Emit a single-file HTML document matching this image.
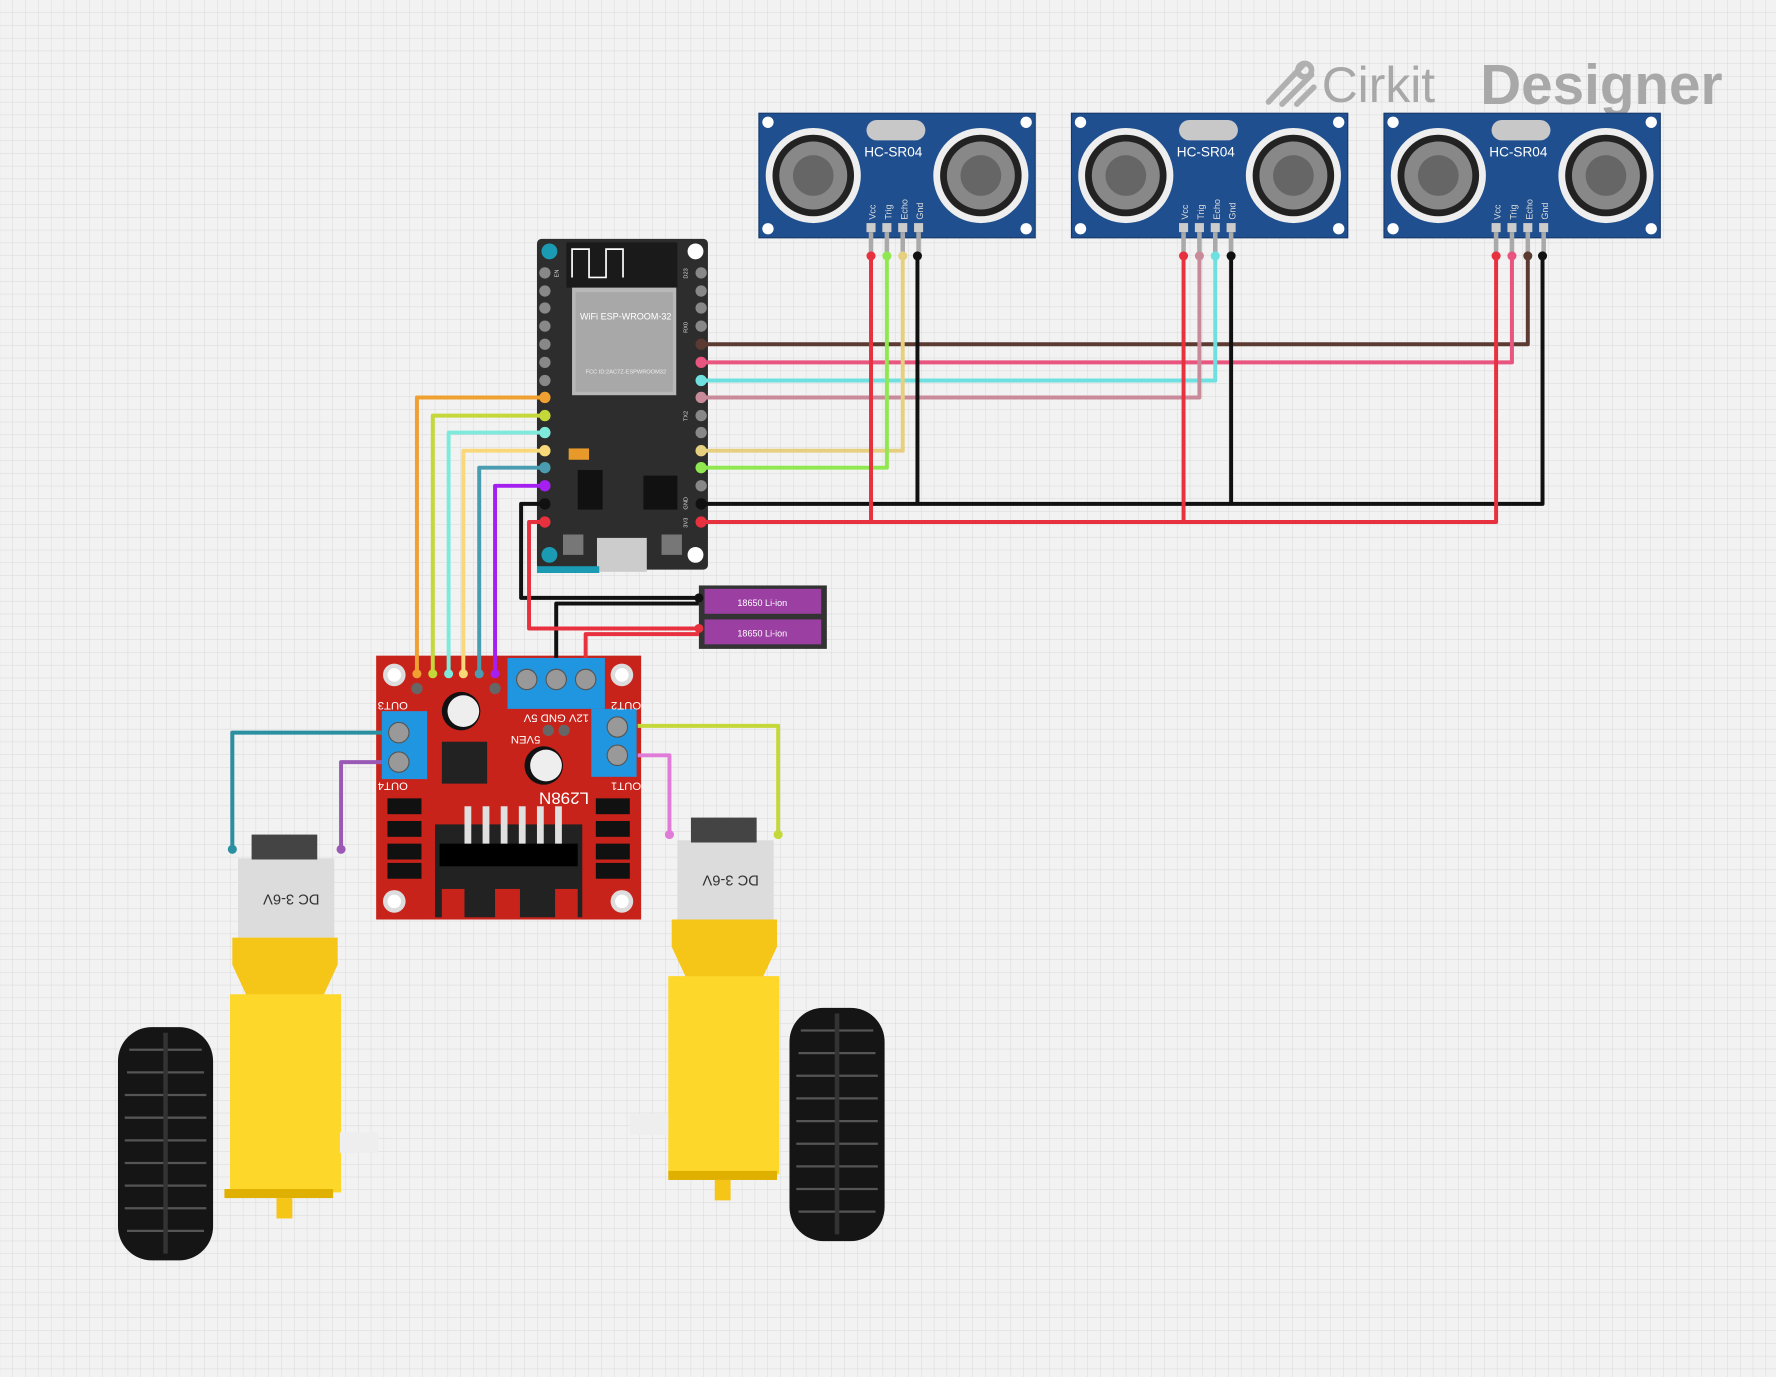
<!DOCTYPE html>
<html><head><meta charset="utf-8"><style>
html,body{margin:0;padding:0;background:#f2f2f2}
svg{display:block}
text{font-family:"Liberation Sans",sans-serif}
</style></head><body>
<svg width="1776" height="1377" viewBox="0 0 1568 1216" xmlns="http://www.w3.org/2000/svg">
<defs>
<pattern id="g" width="11.3" height="11.3" patternUnits="userSpaceOnUse">
<path d="M11.3 0V11.3H0" fill="none" stroke="#d8d8d8" stroke-width="0.8"/>
</pattern>
<g id="sr">
<rect x="0" y="0" width="244" height="110" fill="#1f4f8f" stroke="#163a6b"/>
<circle cx="8" cy="8" r="5" fill="#fff"/><circle cx="236" cy="8" r="5" fill="#fff"/>
<circle cx="8" cy="102" r="5" fill="#fff"/><circle cx="236" cy="102" r="5" fill="#fff"/>
<rect x="95" y="6" width="52" height="18" rx="9" fill="#c8c8c8"/>
<text x="93" y="38" font-size="12" fill="#fff">HC-SR04</text>
<g transform="translate(48,55)"><circle r="42" fill="#eee"/><circle r="36" fill="#222"/><circle r="30" fill="#888"/><circle r="18" fill="#666"/></g>
<g transform="translate(196,55)"><circle r="42" fill="#eee"/><circle r="36" fill="#222"/><circle r="30" fill="#888"/><circle r="18" fill="#666"/></g>
<g fill="#ddd" font-size="8">
<rect x="95" y="97" width="8" height="8" fill="#ccc"/><rect x="109" y="97" width="8" height="8" fill="#ccc"/><rect x="123" y="97" width="8" height="8" fill="#ccc"/><rect x="137" y="97" width="8" height="8" fill="#ccc"/>
<text transform="translate(103,94) rotate(-90)">Vcc</text><text transform="translate(117,94) rotate(-90)">Trig</text><text transform="translate(131,94) rotate(-90)">Echo</text><text transform="translate(145,94) rotate(-90)">Gnd</text>
</g>
<g fill="#aaa"><rect x="97" y="105" width="4" height="20"/><rect x="111" y="105" width="4" height="20"/><rect x="125" y="105" width="4" height="20"/><rect x="139" y="105" width="4" height="20"/></g>
</g>
<g id="tire">
<rect x="0" y="0" width="84" height="206" rx="30" fill="#151515"/>
<g stroke="#555" stroke-width="2">
<path d="M10 20H74M8 40H76M6 60H78M6 80H78M6 100H78M6 120H78M6 140H78M6 160H78M8 180H76"/>
<path d="M42 5V200" stroke="#333" stroke-width="4"/>
</g>
</g>
</defs>
<rect width="1568" height="1216" fill="#f2f2f2"/>
<rect width="1568" height="1216" fill="url(#g)"/>

<!-- logo -->
<g stroke="#b0b0b0" stroke-width="5" fill="none" stroke-linecap="round">
<path d="M1120 90L1150 58M1132 92L1158 66M1145 92L1160 77"/><circle cx="1152" cy="62" r="6"/>
</g>
<text x="1167" y="90" font-size="44" fill="#a8a8a8">Cirkit</text>
<text x="1307" y="92" font-size="50" font-weight="bold" fill="#a8a8a8" font-family="Liberation Mono">Designer</text>

<use href="#sr" x="670" y="100"/>
<use href="#sr" x="946" y="100"/>
<use href="#sr" x="1222" y="100"/>

<!-- ESP32 -->
<rect x="474" y="211" width="151" height="292" rx="4" fill="#2d2d2d"/>
<rect x="500" y="214" width="98" height="40" fill="#1a1a1a"/>
<path d="M505 245V220H520V245H535V220H550V245" stroke="#fff" stroke-width="1.5" fill="none"/>
<rect x="505" y="254" width="92" height="95" fill="#b8b8b8"/>
<rect x="508" y="258" width="86" height="88" fill="#a8a8a8"/>
<text x="512" y="282" font-size="8" fill="#fff">WiFi ESP-WROOM-32</text>
<text x="517" y="330" font-size="5" fill="#eee">FCC ID:2AC7Z-ESPWROOM32</text>
<circle cx="485" cy="222" r="7" fill="#1a9bb3"/><circle cx="614" cy="222" r="7" fill="#fff"/>
<circle cx="485" cy="490" r="7" fill="#1a9bb3"/><circle cx="614" cy="490" r="7" fill="#fff"/>
<rect x="527" y="475" width="44" height="30" fill="#ccc"/>
<rect x="497" y="472" width="18" height="18" fill="#777"/><rect x="584" y="472" width="18" height="18" fill="#777"/>
<rect x="510" y="415" width="22" height="35" fill="#111"/><rect x="568" y="420" width="30" height="30" fill="#111"/>
<rect x="502" y="396" width="18" height="10" fill="#e79a2a"/>
<rect x="474" y="500" width="55" height="6" fill="#1a9bb3"/>
<g fill="#888">
<circle cx="481" cy="241" r="5"/><circle cx="481" cy="257" r="5"/><circle cx="481" cy="272" r="5"/><circle cx="481" cy="288" r="5"/><circle cx="481" cy="304" r="5"/><circle cx="481" cy="320" r="5"/><circle cx="481" cy="336" r="5"/>
<circle cx="619" cy="241" r="5"/><circle cx="619" cy="257" r="5"/><circle cx="619" cy="272" r="5"/><circle cx="619" cy="288" r="5"/><circle cx="619" cy="367" r="5"/><circle cx="619" cy="382" r="5"/><circle cx="619" cy="429" r="5"/>
</g>
<g fill="#ddd" font-size="5">
<text transform="translate(493,245) rotate(-90)">EN</text><text transform="translate(607,246) rotate(-90)">D23</text>
<text transform="translate(607,294) rotate(-90)">RX0</text><text transform="translate(607,372) rotate(-90)">TX2</text>
<text transform="translate(607,450) rotate(-90)">GND</text><text transform="translate(607,466) rotate(-90)">3V3</text>
</g>

<!-- battery -->
<rect x="617" y="517" width="113" height="56" fill="#333"/>
<rect x="622" y="520" width="103" height="22" fill="#9b3fa3"/>
<rect x="622" y="547" width="103" height="22" fill="#9b3fa3"/>
<text x="651" y="535" font-size="8" fill="#fff">18650 Li-ion</text>
<text x="651" y="562" font-size="8" fill="#fff">18650 Li-ion</text>

<!-- L298N -->
<rect x="332" y="579" width="234" height="233" fill="#c8231b"/>
<g fill="#ddd"><circle cx="348" cy="596" r="10"/><circle cx="549" cy="596" r="10"/><circle cx="348" cy="796" r="10"/><circle cx="549" cy="796" r="10"/></g>
<g fill="#fff"><circle cx="348" cy="596" r="6"/><circle cx="549" cy="596" r="6"/><circle cx="348" cy="796" r="6"/><circle cx="549" cy="796" r="6"/></g>
<rect x="448" y="581" width="86" height="45" fill="#2196e0"/>
<g fill="#999" stroke="#555"><circle cx="465" cy="600" r="9"/><circle cx="491" cy="600" r="9"/><circle cx="517" cy="600" r="9"/></g>
<rect x="337" y="628" width="40" height="60" fill="#2196e0"/>
<g fill="#999" stroke="#555"><circle cx="352" cy="647" r="9"/><circle cx="352" cy="673" r="9"/></g>
<rect x="522" y="626" width="40" height="60" fill="#2196e0"/>
<g fill="#999" stroke="#555"><circle cx="545" cy="642" r="9"/><circle cx="545" cy="667" r="9"/></g>
<circle cx="407" cy="628" r="17" fill="#111"/><circle cx="409" cy="628" r="14" fill="#eee"/>
<circle cx="480" cy="676" r="17" fill="#111"/><circle cx="482" cy="676" r="14" fill="#eee"/>
<rect x="390" y="655" width="40" height="37" fill="#222"/>
<rect x="384" y="728" width="130" height="82" fill="#222"/>
<rect x="388" y="745" width="122" height="20" fill="#000"/>
<g fill="#e0e0e0"><rect x="410" y="712" width="6" height="33"/><rect x="426" y="712" width="6" height="33"/><rect x="442" y="712" width="6" height="33"/><rect x="458" y="712" width="6" height="33"/><rect x="474" y="712" width="6" height="33"/><rect x="490" y="712" width="6" height="33"/></g>
<g fill="#c8231b"><rect x="390" y="785" width="20" height="27"/><rect x="437" y="785" width="22" height="27"/><rect x="490" y="785" width="20" height="27"/></g>
<g fill="#111"><rect x="342" y="705" width="30" height="14"/><rect x="342" y="725" width="30" height="14"/><rect x="342" y="745" width="30" height="14"/><rect x="342" y="762" width="30" height="14"/>
<rect x="526" y="705" width="30" height="14"/><rect x="526" y="725" width="30" height="14"/><rect x="526" y="745" width="30" height="14"/><rect x="526" y="762" width="30" height="14"/></g>
<g fill="#fff" font-size="10" font-family="Liberation Mono">
<text transform="translate(520,700) rotate(180)" font-size="15">L298N</text>
<text transform="translate(360,620) rotate(180)">OUT3</text><text transform="translate(360,691) rotate(180)">OUT4</text>
<text transform="translate(566,620) rotate(180)">OUT2</text><text transform="translate(566,691) rotate(180)">OUT1</text>
<text transform="translate(520,631) rotate(180)">12V GND 5V</text><text transform="translate(477,650) rotate(180)">5VEN</text>
</g>
<g fill="#666"><circle cx="368" cy="608" r="5"/><circle cx="437" cy="608" r="5"/><circle cx="484" cy="645" r="5"/><circle cx="498" cy="645" r="5"/></g>

<!-- motors -->
<rect x="210" y="758" width="85" height="70" fill="#dcdcdc"/>
<rect x="222" y="737" width="58" height="22" fill="#444"/>
<text transform="translate(282,790) rotate(180)" font-size="13" fill="#333" font-family="Liberation Mono">DC 3-6V</text>
<path d="M205 828H298V852L285 880H218L205 852Z" fill="#f5c518"/>
<rect x="203" y="878" width="98" height="175" fill="#fdd72a"/>
<rect x="198" y="1050" width="96" height="8" fill="#e0b000"/>
<rect x="244" y="1058" width="14" height="18" fill="#f5c518"/>
<rect x="300" y="1000" width="34" height="18" fill="#eee"/>
<use href="#tire" x="104" y="907"/>

<rect x="598" y="742" width="85" height="70" fill="#dcdcdc"/>
<rect x="610" y="722" width="58" height="22" fill="#444"/>
<text transform="translate(670,773) rotate(180)" font-size="13" fill="#333" font-family="Liberation Mono">DC 3-6V</text>
<path d="M593 812H686V836L673 864H606L593 836Z" fill="#f5c518"/>
<rect x="590" y="862" width="98" height="175" fill="#fdd72a"/>
<rect x="590" y="1034" width="96" height="8" fill="#e0b000"/>
<rect x="631" y="1042" width="14" height="18" fill="#f5c518"/>
<rect x="556" y="984" width="34" height="18" fill="#eee"/>
<use href="#tire" x="697" y="890"/>

<!-- wires -->
<g fill="none" stroke-width="3.5" stroke-linejoin="round">
<path d="M619 304H1349V226" stroke="#5b3a32"/>
<path d="M619 320H1335V226" stroke="#e8557f"/>
<path d="M619 336H1073V226" stroke="#6ee0e0"/>
<path d="M619 351H1059V226" stroke="#c98a9a"/>
<path d="M619 398H797V226" stroke="#e6d080"/>
<path d="M619 413H783V226" stroke="#8fe84f"/>
<path d="M619 445H1362V226M810 445V226M1087 445V226" stroke="#111"/>
<path d="M619 461H1321V226M769 461V226M1045 461V226" stroke="#e8313f"/>
<path d="M481 351H368V595" stroke="#f0a030"/>
<path d="M481 367H382V595" stroke="#c5d83a"/>
<path d="M481 382H396V595" stroke="#7eeadb"/>
<path d="M481 398H409V595" stroke="#f8d878"/>
<path d="M481 413H423V595" stroke="#4a9db0"/>
<path d="M481 429H437V595" stroke="#a520f0"/>
<path d="M481 445H460V528H617" stroke="#111"/>
<path d="M491 581V533H617" stroke="#111"/>
<path d="M481 461H467V555H617" stroke="#e8313f"/>
<path d="M517 581V560H617" stroke="#e8313f"/>
<path d="M337 647H205V750" stroke="#2a8fa0"/>
<path d="M337 673H301V750" stroke="#9b59b6"/>
<path d="M563 641H687V737" stroke="#c5d83a"/>
<path d="M563 667H591V737" stroke="#e07bd8"/>
</g>
<g>
<circle cx="769" cy="226" r="4" fill="#e8313f"/><circle cx="783" cy="226" r="4" fill="#8fe84f"/><circle cx="797" cy="226" r="4" fill="#e6d080"/><circle cx="810" cy="226" r="4" fill="#111"/>
<circle cx="1045" cy="226" r="4" fill="#e8313f"/><circle cx="1059" cy="226" r="4" fill="#c98a9a"/><circle cx="1073" cy="226" r="4" fill="#6ee0e0"/><circle cx="1087" cy="226" r="4" fill="#111"/>
<circle cx="1321" cy="226" r="4" fill="#e8313f"/><circle cx="1335" cy="226" r="4" fill="#e8557f"/><circle cx="1349" cy="226" r="4" fill="#5b3a32"/><circle cx="1362" cy="226" r="4" fill="#111"/>
<circle cx="619" cy="304" r="5" fill="#5b3a32"/><circle cx="619" cy="320" r="5" fill="#e8557f"/><circle cx="619" cy="336" r="5" fill="#6ee0e0"/><circle cx="619" cy="351" r="5" fill="#c98a9a"/><circle cx="619" cy="398" r="5" fill="#e6d080"/><circle cx="619" cy="413" r="5" fill="#8fe84f"/><circle cx="619" cy="445" r="5" fill="#111"/><circle cx="619" cy="461" r="5" fill="#e8313f"/>
<circle cx="481" cy="351" r="5" fill="#f0a030"/><circle cx="481" cy="367" r="5" fill="#c5d83a"/><circle cx="481" cy="382" r="5" fill="#7eeadb"/><circle cx="481" cy="398" r="5" fill="#f8d878"/><circle cx="481" cy="413" r="5" fill="#4a9db0"/><circle cx="481" cy="429" r="5" fill="#a520f0"/><circle cx="481" cy="445" r="5" fill="#111"/><circle cx="481" cy="461" r="5" fill="#e8313f"/>
<circle cx="368" cy="595" r="4" fill="#f0a030"/><circle cx="382" cy="595" r="4" fill="#c5d83a"/><circle cx="396" cy="595" r="4" fill="#7eeadb"/><circle cx="409" cy="595" r="4" fill="#f8d878"/><circle cx="423" cy="595" r="4" fill="#4a9db0"/><circle cx="437" cy="595" r="4" fill="#a520f0"/>
<circle cx="205" cy="750" r="4" fill="#2a8fa0"/><circle cx="301" cy="750" r="4" fill="#9b59b6"/><circle cx="687" cy="737" r="4" fill="#c5d83a"/><circle cx="591" cy="737" r="4" fill="#e07bd8"/>
<circle cx="617" cy="528" r="4" fill="#111"/><circle cx="617" cy="555" r="4" fill="#e8313f"/>
</g>
</svg>
</body></html>
